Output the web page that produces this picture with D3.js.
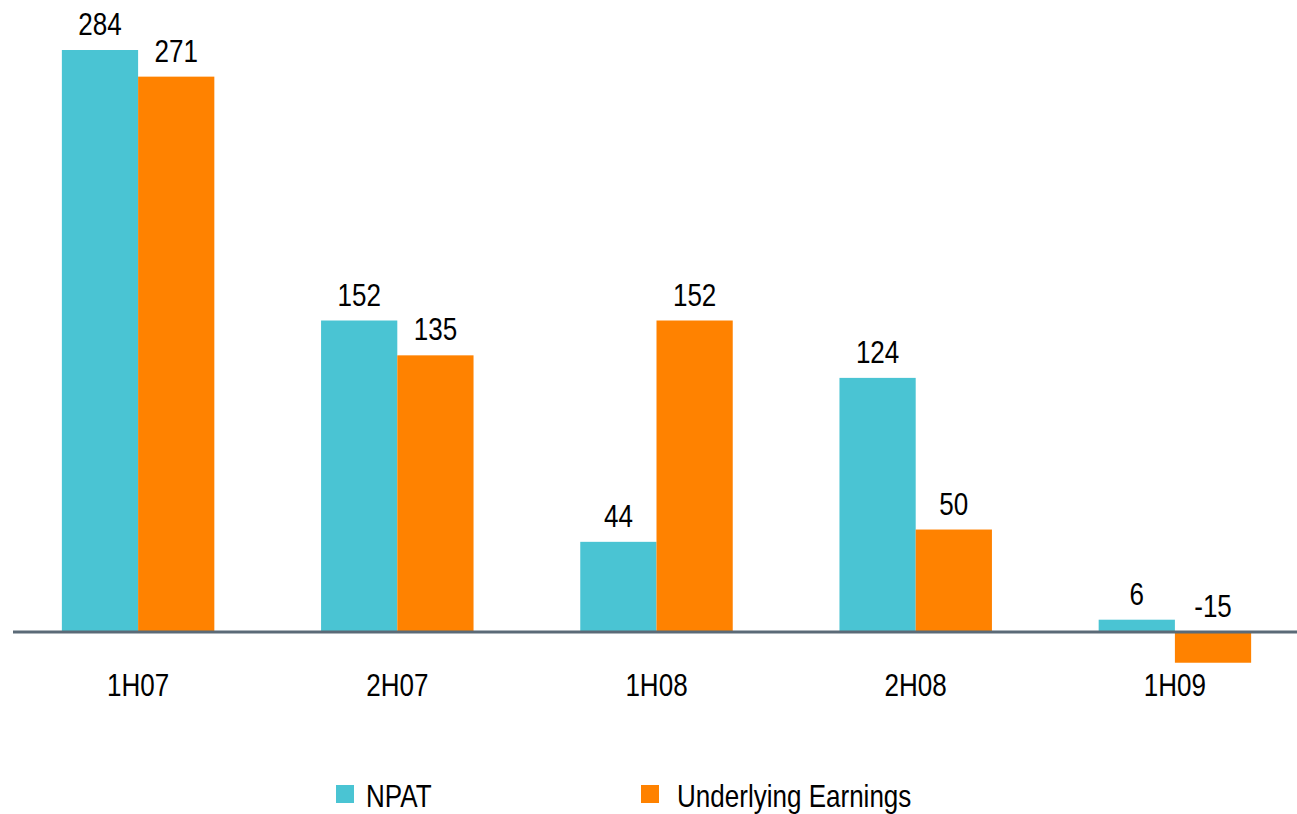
<!DOCTYPE html>
<html>
<head>
<meta charset="utf-8">
<script src="https://cdn.jsdelivr.net/npm/d3@7"></script>
<style>
  body { margin: 0; background: #fff; }
  text { font-family: "Liberation Sans", Arial, sans-serif; fill: #000; }
</style>
</head>
<body>
<script>
// данные
const categories = ['1H07', '2H07', '1H08', '2H08', '1H09'];
const seriesNames = ['NPAT', 'Underlying Earnings'];
const npat = [284, 152, 44, 124, 6];
const underlying = [271, 135, 152, 50, -15];
const colors = ['#4AC4D3', '#FF8200'];

const width = 1297;
const height = 814;
const narrow = 0.84; // сжатие шрифта по горизонтали (в оригинале узкий шрифт)

const svg = d3.select('body')
    .append('svg')
    .attr('width', width)
    .attr('height', height);

const rows = categories.map((c, i) => ({cat: c, values: [npat[i], underlying[i]]}));

// шкалы
const xScale = d3.scaleBand()
    .domain(categories)
    .range([8.5, 1304.5])
    .padding(0);
const xSub = d3.scaleBand()
    .domain(d3.range(seriesNames.length))
    .range([0, xScale.bandwidth()])
    .paddingInner(0)
    .paddingOuter(0.7);
const yScale = d3.scaleLinear()
    .domain([0, 284])
    .range([632, 50]);

// столбцы
const groups = svg.append('g').classed('bars', true)
    .selectAll('g')
    .data(rows)
    .join('g')
    .attr('transform', d => `translate(${xScale(d.cat)},0)`);

groups.selectAll('rect')
    .data(d => d.values.map((v, i) => ({v, i})))
    .join('rect')
    .attr('x', d => xSub(d.i))
    .attr('width', xSub.bandwidth())
    .attr('y', d => yScale(Math.max(0, d.v)))
    .attr('height', d => Math.abs(yScale(d.v) - yScale(0)))
    .style('fill', d => colors[d.i]);

// подписи значений
groups.selectAll('text')
    .data(d => d.values.map((v, i) => ({v, i})))
    .join('text')
    .attr('transform', d => `translate(${xSub(d.i) + xSub.bandwidth() / 2},${yScale(Math.max(0, d.v)) - 15}) scale(${narrow},1)`)
    .attr('text-anchor', 'middle')
    .style('font-size', '31px')
    .text(d => d.v);

// ось X
const xAxis = d3.axisBottom(xScale).tickSize(0).tickPadding(0);
const xAxisGroup = svg.append('g')
    .classed('x axis', true)
    .attr('transform', `translate(0,${yScale(0)})`)
    .call(xAxis);
xAxisGroup.select('.domain').remove();
xAxisGroup.selectAll('text')
    .attr('y', 0)
    .attr('dy', 0)
    .attr('transform', `translate(0,64) scale(${narrow},1)`)
    .style('font-size', '31px')
    .style('font-family', '"Liberation Sans", sans-serif')
    .style('fill', '#000');

svg.append('line')
    .attr('x1', 13)
    .attr('x2', width)
    .attr('y1', yScale(0))
    .attr('y2', yScale(0))
    .attr('stroke', '#5B6A77')
    .attr('stroke-width', 3);

// легенда
const legendX = [336, 641];
const legend = svg.append('g').classed('legend', true)
    .selectAll('g')
    .data(seriesNames)
    .join('g')
    .attr('transform', (d, i) => `translate(${legendX[i]},785)`);
legend.append('rect')
    .attr('width', 18)
    .attr('height', 18)
    .style('fill', (d, i) => colors[i]);
legend.append('text')
    .attr('transform', (d, i) => `translate(${i === 0 ? 30 : 36},22) scale(${narrow},1)`)
    .style('font-size', '31px')
    .text(d => d);
</script>
</body>
</html>
